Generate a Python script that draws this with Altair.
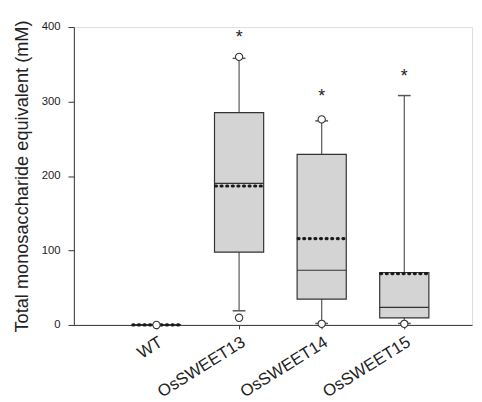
import altair as alt
import pandas as pd

# ---- data ----
groups = ["WT", "OsSWEET13", "OsSWEET14", "OsSWEET15"]
group_pos = [1, 2, 3, 4]
whisker_low = [0, 19, 2, 2]
q1 = [0, 97.7, 34.7, 9.6]
median = [0, 190, 73.4, 23.7]
q3 = [0, 285, 229, 70.4]
whisker_high = [0, 358, 274, 308]
mean = [0, 186.5, 116, 69]

outlier_group = ["WT", "OsSWEET13", "OsSWEET13", "OsSWEET14", "OsSWEET14", "OsSWEET15"]
outlier_value = [0, 360, 9.6, 276, 1.5, 1.5]

star_group = ["OsSWEET13", "OsSWEET14", "OsSWEET15"]
star_value = [388, 308, 336]

pos_of = dict(zip(groups, group_pos))

box_df = pd.DataFrame({
    "group": groups, "pos": group_pos, "lo": whisker_low, "q1": q1,
    "median": median, "q3": q3, "hi": whisker_high, "mean": mean,
})
out_df = pd.DataFrame({"group": outlier_group,
                       "pos": [pos_of[g] for g in outlier_group],
                       "value": outlier_value})
star_df = pd.DataFrame({"group": star_group,
                        "pos": [pos_of[g] for g in star_group],
                        "value": star_value, "label": ["*"] * len(star_group)})

FONT = "Liberation Sans"
HALF = 25  # half box width in px
CAP = 6.5

x_enc = alt.X(
    "pos:Q",
    scale=alt.Scale(domain=[0, 4.82], nice=False, zero=False),
    axis=alt.Axis(
        values=[1, 2, 3, 4],
        labelExpr="['', 'WT', 'OsSWEET13', 'OsSWEET14', 'OsSWEET15'][datum.value]",
        title=None, grid=False, tickSize=4, labelAngle=-32, labelAlign="right",
        labelBaseline="top", labelPadding=5, labelFontSize=17, labelFont=FONT,
        labelColor="#222", domainColor="#333", tickColor="#333",
        labelOverlap=False, labelBound=False, labelFlush=False,
    ),
)
y_scale = alt.Scale(domain=[0, 400], nice=False)
y_axis = alt.Axis(
    values=[0, 100, 200, 300, 400], grid=False, tickSize=6, labelPadding=8,
    labelFontSize=11.5, labelFont=FONT, labelColor="#222",
    domainColor="#333", tickColor="#333",
    title="Total monosaccharide equivalent (mM)", titleFontSize=18.5,
    titleFont=FONT, titleFontWeight="normal", titleColor="#222",
    titleAngle=270, titleAlign="center", titleBaseline="bottom",
    titleX=-43, titleY=151.5,
)

base = alt.Chart(box_df)

whisker = base.mark_rule(color="#555", strokeWidth=1.2).encode(
    x=x_enc, y=alt.Y("lo:Q", scale=y_scale, axis=y_axis), y2="hi:Q")

cap_lo = base.mark_rule(color="#555", strokeWidth=1.5, xOffset=-CAP, x2Offset=CAP).encode(
    x="pos:Q", x2="pos:Q", y="lo:Q")
cap_hi = base.mark_rule(color="#555", strokeWidth=1.5, xOffset=-CAP, x2Offset=CAP).encode(
    x="pos:Q", x2="pos:Q", y="hi:Q")

box = base.mark_rect(fill="#d4d4d4", stroke="#333", strokeWidth=1.2,
                     xOffset=-HALF, x2Offset=HALF).encode(
    x="pos:Q", x2="pos:Q", y="q1:Q", y2="q3:Q")

med = base.mark_rule(color="#333", strokeWidth=1.2, xOffset=-HALF, x2Offset=HALF).encode(
    x="pos:Q", x2="pos:Q", y="median:Q")

mean_line = base.mark_rule(color="#1a1a1a", strokeWidth=3.2, strokeCap="round",
                           strokeDash=[1, 4.7], xOffset=-HALF + 1, x2Offset=HALF).encode(
    x="pos:Q", x2="pos:Q", y="mean:Q")

outliers = alt.Chart(out_df).mark_point(
    shape="circle", filled=True, fill="white", stroke="#333", strokeWidth=1.1,
    size=55, opacity=1).encode(x="pos:Q", y="value:Q")

stars = alt.Chart(star_df).mark_text(
    font=FONT, fontSize=18, color="#222", baseline="middle", dy=2).encode(
    x="pos:Q", y="value:Q", text="label:N")

chart = alt.layer(whisker, cap_lo, cap_hi, box, med, mean_line, outliers, stars).properties(
    width=405, height=303,
    autosize=alt.AutoSizeParams(type="none"),
    padding={"left": 67, "top": 16, "right": 2, "bottom": 75},
).configure_view(stroke=None).configure(background="white")

chart.save("out.html", embed_options={"renderer": "svg", "actions": False})
